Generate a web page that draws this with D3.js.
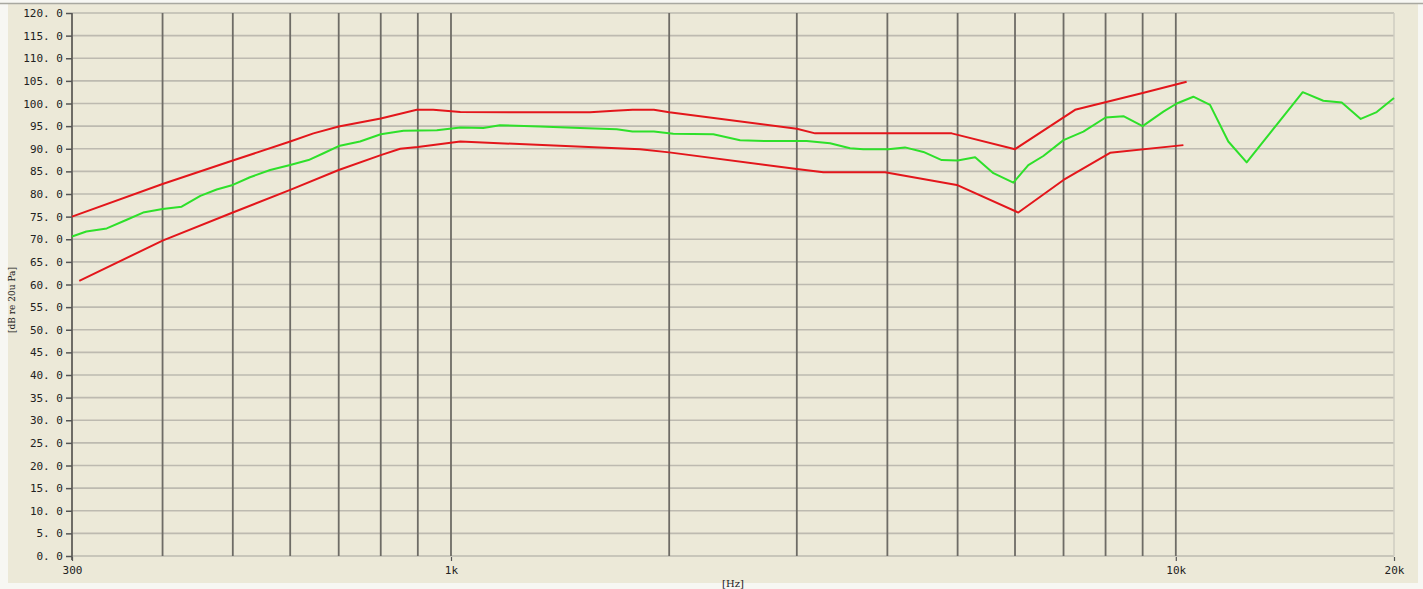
<!DOCTYPE html>
<html>
<head>
<meta charset="utf-8">
<script src="https://cdn.jsdelivr.net/npm/d3@7"></script>
<style>
  body { margin: 0; background: #f7f7f3; }
  svg { display: block; }
</style>
</head>
<body>
<div id="container"></div>
<script>
/* CONSTANTS AND GLOBALS */
const width = 1423,
  height = 589;
const plot = { left: 72, right: 1394, top: 13, bottom: 556 };

/* DATA */
const upperFreq = [300, 400, 500, 600, 646, 700, 800, 897, 945, 1030, 1555, 1680, 1780, 1905, 2000, 3000, 3180, 4907, 6000, 7261, 9000, 10350];
const upperDb = [75.0, 82.2, 87.4, 91.6, 93.4, 94.9, 96.7, 98.6, 98.6, 98.1, 98.05, 98.4, 98.6, 98.6, 98.05, 94.4, 93.4, 93.4, 89.9, 98.6, 102.3, 104.8];

const lowerFreq = [307, 400, 500, 600, 700, 800, 851, 900, 1030, 1823, 2000, 3000, 3264, 3970, 4987, 6063, 7000, 8115, 10244];
const lowerDb = [60.8, 69.7, 75.9, 80.9, 85.3, 88.6, 90.0, 90.4, 91.6, 89.9, 89.2, 85.5, 84.8, 84.8, 82.0, 75.9, 83.1, 89.1, 90.8];

const measFreq = [300, 314, 335, 357, 376, 400, 425, 451, 475, 500, 528, 563, 600, 636, 667, 700, 749, 800, 860, 956, 1030, 1108, 1168, 1327, 1507, 1693, 1780, 1905, 2026, 2301, 2505, 2720, 3096, 3334, 3553, 3706, 4011, 4230, 4485, 4754, 5000, 5286, 5602, 5968, 6259, 6565, 7000, 7455, 8000, 8467, 9000, 9613, 10030, 10573, 11148, 11815, 12525, 14967, 15977, 16941, 17995, 18930, 20000];
const measDb = [70.6, 71.7, 72.4, 74.3, 75.9, 76.7, 77.2, 79.6, 81.0, 82.0, 83.7, 85.3, 86.4, 87.5, 89.0, 90.6, 91.6, 93.2, 94.0, 94.1, 94.7, 94.6, 95.2, 94.9, 94.6, 94.3, 93.8, 93.8, 93.3, 93.2, 91.9, 91.7, 91.7, 91.2, 90.1, 89.9, 89.9, 90.3, 89.3, 87.5, 87.4, 88.1, 84.6, 82.5, 86.4, 88.4, 91.9, 93.8, 96.9, 97.2, 95.0, 98.2, 100.0, 101.5, 99.7, 91.6, 87.0, 102.5, 100.6, 100.2, 96.6, 98.1, 101.2];

const gridFreqs = [400, 500, 600, 700, 800, 900, 1000, 2000, 3000, 4000, 5000, 6000, 7000, 8000, 9000, 10000];
const xTickFreqs = [300, 1000, 10000, 20000];
const xTickLabels = ["300", "1k", "10k", "20k"];
const yTicks = d3.range(0, 121, 5);

/* SCALES */
const xScale = d3.scaleLog()
  .domain([300, 20000])
  .range([plot.left, plot.right]);

const yScale = d3.scaleLinear()
  .domain([0, 120])
  .range([plot.bottom, plot.top]);

const svg = d3.select("#container")
  .append("svg")
  .attr("width", width)
  .attr("height", height);

// panel
svg.append("rect")
  .attr("x", 8).attr("y", 3)
  .attr("width", 1410).attr("height", 580)
  .attr("fill", "#ece9d8");

svg.append("line")
  .attr("x1", 0).attr("x2", width)
  .attr("y1", 3.5).attr("y2", 3.5)
  .attr("stroke", "#a8a8a0").attr("stroke-width", 1.5);

/* GRID */
svg.append("g")
  .selectAll("line")
  .data(yTicks)
  .join("line")
  .attr("x1", plot.left).attr("x2", plot.right)
  .attr("y1", d => yScale(d)).attr("y2", d => yScale(d))
  .attr("stroke", "#bdbab0")
  .attr("stroke-width", 1.6);

svg.append("line")
  .attr("x1", plot.right).attr("x2", plot.right)
  .attr("y1", plot.top).attr("y2", plot.bottom)
  .attr("stroke", "#cfccc2").attr("stroke-width", 1.5);

svg.append("g")
  .selectAll("line")
  .data(gridFreqs)
  .join("line")
  .attr("x1", d => xScale(d)).attr("x2", d => xScale(d))
  .attr("y1", plot.top).attr("y2", plot.bottom)
  .attr("stroke", "#6e6c66")
  .attr("stroke-width", 1.8);

/* AXES */
const yAxis = d3.axisLeft(yScale)
  .tickValues(yTicks)
  .tickSize(6)
  .tickPadding(3)
  .tickFormat(d => d3.format(".1f")(d).replace(".", ". "));

const yg = svg.append("g")
  .attr("transform", `translate(${plot.left},0)`)
  .call(yAxis);
yg.select(".domain").attr("stroke", "#6e6c66").attr("stroke-width", 2)
  .attr("d", `M0,${plot.top}V${plot.bottom + 4}`);
yg.selectAll(".tick line").attr("stroke", "#555").attr("stroke-width", 1.5);
yg.selectAll("text")
  .attr("fill", "#222")
  .style("font-family", "'DejaVu Sans Mono', monospace")
  .style("font-size", "11px");

const xAxis = d3.axisBottom(xScale)
  .tickValues(xTickFreqs)
  .tickSize(4)
  .tickPadding(5)
  .tickFormat((d, i) => xTickLabels[i]);

const xg = svg.append("g")
  .attr("transform", `translate(0,${plot.bottom + 1})`)
  .call(xAxis);
xg.select(".domain").remove();
xg.selectAll(".tick line").attr("stroke", "#555").attr("stroke-width", 1.2);
xg.selectAll("text")
  .attr("fill", "#222")
  .style("font-family", "'DejaVu Sans Mono', monospace")
  .style("font-size", "11px");

svg.append("text")
  .attr("x", 733).attr("y", 587)
  .attr("text-anchor", "middle")
  .attr("fill", "#222")
  .style("font-family", "'DejaVu Serif', serif")
  .style("font-size", "10px")
  .text("[Hz]");

svg.append("text")
  .attr("transform", "translate(15,300) rotate(-90)")
  .attr("text-anchor", "middle")
  .attr("fill", "#222")
  .style("font-family", "'DejaVu Serif', serif")
  .style("font-size", "9px")
  .text("[dB re 20u Pa]");

/* LINES */
const line = d3.line()
  .x(d => xScale(d[0]))
  .y(d => yScale(d[1]));

const series = [
  { f: upperFreq, v: upperDb, color: "#e3161b" },
  { f: lowerFreq, v: lowerDb, color: "#e3161b" },
  { f: measFreq, v: measDb, color: "#2ee02a" }
];

svg.selectAll(".series")
  .data(series)
  .join("path")
  .attr("class", "series")
  .attr("d", s => line(d3.zip(s.f, s.v)))
  .attr("fill", "none")
  .attr("stroke", s => s.color)
  .attr("stroke-width", 2)
  .attr("stroke-linejoin", "round");
</script>
</body>
</html>
